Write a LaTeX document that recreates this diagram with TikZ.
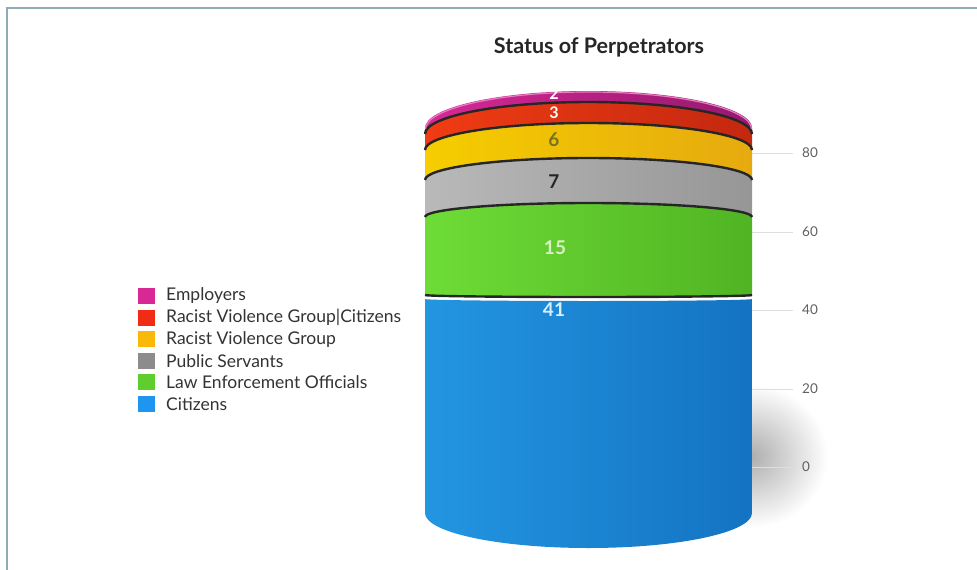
\documentclass[tikz,border=0pt]{standalone}
\usepackage{fontspec}
\setmainfont{Lato}
\usepackage{xcolor}
\definecolor{framegray}{RGB}{140,172,182}
\definecolor{gridgray}{RGB}{222,222,222}
\definecolor{axisgray}{RGB}{96,96,96}
\definecolor{legtext}{RGB}{51,51,51}
\definecolor{empmag}{RGB}{215,40,150}
\definecolor{rvcred}{RGB}{240,45,20}
\definecolor{rvgyel}{RGB}{250,185,10}
\definecolor{pubgray}{RGB}{140,140,140}
\definecolor{lawgreen}{RGB}{95,205,45}
\definecolor{citblue}{RGB}{30,150,240}
\usepackage{tikz}
\usetikzlibrary{positioning}

\begin{document}
\begin{tikzpicture}[x=1pt, y=1pt, yscale=-1,
  legitem/.style={anchor=west, font=\fontsize{17.5}{19}\selectfont, text=legtext, inner sep=0pt},
  axislabel/.style={anchor=west, font=\fontsize{13.5}{15}\selectfont, text=axisgray, inner sep=0pt},
  datalabel/.style={font=\fontsize{19}{21}\selectfont\bfseries, inner sep=0pt},
  rim/.style={line width=2.4pt, black!85}]
  \useasboundingbox (0,0) rectangle (977,570);
  % frame and title
  \draw[framegray, line width=2.6pt] (7,570) -- (7,8) -- (977,8);
  \node[font=\fontsize{21.5}{23}\selectfont\bfseries, text=black!85] (title) at (599,47) {Status of Perpetrators};

  % shadow and grid
  \shade[inner color=black!32, outer color=white] (750,456) ellipse [x radius=78, y radius=72];
  \foreach \yy/\val in {153/80, 232/60, 310/40, 389/20, 467/0} {
    \draw[gridgray, line width=1pt] (752,\yy) -- (793,\yy);
    \node[axislabel] (tick\val) at (802,\yy) {\val};
  }

  % slices: top side, top bulge, bottom side, bottom bulge, colours
  \foreach \yt/\bt/\yb/\bb/\cl/\cm/\cr in {
      299/-2/513/-35/{rgb,255:red,35;green,150;blue,225}/{rgb,255:red,0;green,192;blue,255}/{rgb,255:red,20;green,115;blue,195},
      217/14/295/-2/{rgb,255:red,110;green,220;blue,55}/{rgb,255:red,130;green,242;blue,70}/{rgb,255:red,80;green,180;blue,35},
      180/22/217/14/{rgb,255:red,185;green,185;blue,185}/{rgb,255:red,228;green,228;blue,228}/{rgb,255:red,150;green,150;blue,150},
      150/27/180/22/{rgb,255:red,245;green,205;blue,0}/{rgb,255:red,255;green,240;blue,0}/{rgb,255:red,230;green,170;blue,15},
      134/32/150/27/{rgb,255:red,240;green,60;blue,20}/{rgb,255:red,255;green,70;blue,20}/{rgb,255:red,195;green,40;blue,15},
      128/37/134/32/{rgb,255:red,215;green,40;blue,150}/{rgb,255:red,235;green,60;blue,175}/{rgb,255:red,150;green,25;blue,110}} {
    \shade[left color=\cl, middle color=\cm, right color=\cr]
      (425,\yb) -- (425,\yt) arc[start angle=180, end angle=360, x radius=163.5, y radius=\bt]
      -- (752,\yb) arc[start angle=0, end angle=-180, x radius=163.5, y radius=\bb] -- cycle;
  }
  % dark rims under each slice
  \foreach \ys/\bs in {295/-2, 217/14, 180/22, 150/27, 134/32} {
    \draw[rim] (425,\ys) arc[start angle=180, end angle=360, x radius=163.5, y radius=\bs];
  }
  \draw[white, line width=0.8pt] (425,297.5) arc[start angle=180, end angle=360, x radius=163.5, y radius=-2];
  \draw[empmag!60!white, line width=1.2pt] (425.5,129) arc[start angle=180, end angle=360, x radius=163, y radius=37];

  % data labels
  \node[datalabel, font=\fontsize{16}{18}\selectfont\bfseries, text=white] (lab2) at (554,94) {2};
  \node[datalabel, font=\fontsize{16}{18}\selectfont\bfseries, text=white] (lab3) at (554,112.5) {3};
  \node[datalabel, text={rgb,255:red,120;green,115;blue,30}] (lab6) at (554,140) {6};
  \node[datalabel, text=black!85] (lab7) at (554,182) {7};
  \node[datalabel, text={rgb,255:red,215;green,240;blue,195}] (lab15) at (555,248) {15};
  \node[datalabel, text={rgb,255:red,215;green,240;blue,255}] (lab41) at (554,310) {41};

  % legend
  \foreach \col/\txt [count=\i] in {empmag/Employers, rvcred/Racist Violence Group|Citizens,
      rvgyel/Racist Violence Group, pubgray/Public Servants, lawgreen/Law Enforcement Officials,
      citblue/Citizens} {
    \fill[\col] (138,{296+21.6*(\i-1)-8}) rectangle (155,{296+21.6*(\i-1)+8});
    \node[legitem] (leg\i) at (166,{296+21.6*(\i-1)}) {\txt};
  }
\end{tikzpicture}
\end{document}
